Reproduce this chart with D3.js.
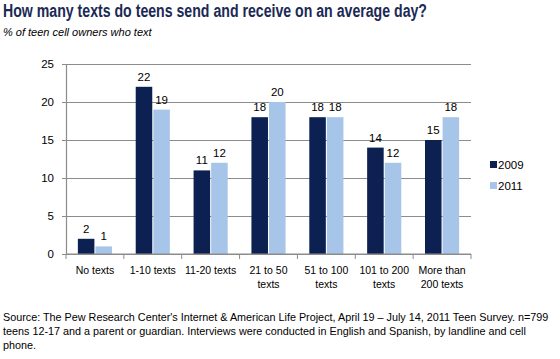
<!DOCTYPE html>
<html>
<head>
<meta charset="utf-8">
<script src="https://cdn.jsdelivr.net/npm/d3@7"></script>
<style>
  body { margin: 0; background: #fff; }
  svg { display: block; }
</style>
</head>
<body>
<svg id="chart" width="560" height="359"></svg>
<script>
const categories = [
  ["No texts"], ["1-10 texts"], ["11-20 texts"], ["21 to 50", "texts"],
  ["51 to 100", "texts"], ["101 to 200", "texts"], ["More than", "200 texts"]
];
const years = ["2009", "2011"];
const values2009 = [2, 22, 11, 18, 18, 14, 15];
const values2011 = [1, 19, 12, 20, 18, 12, 18];
const yTicks = [0, 5, 10, 15, 20, 25];
const sourceLines = [
  "Source: The Pew Research Center's Internet & American Life Project, April 19 \u2013 July 14, 2011 Teen Survey. n=799",
  "teens 12-17 and a parent or guardian. Interviews were conducted in English and Spanish, by landline and cell",
  "phone."
];

const palette = { "2009": "#0c2152", "2011": "#a7c4e9" };
const font = "'Liberation Sans', Arial, sans-serif";

const svg = d3.select("#chart");
const margin = { top: 64, right: 89, bottom: 105, left: 66 };
const width = 560, height = 359;

const x = d3.scaleBand()
  .domain(d3.range(categories.length))
  .range([margin.left, width - margin.right]);

const x1 = d3.scaleBand()
  .domain(years)
  .range([x.bandwidth() * 0.205, x.bandwidth() * 0.795])
  .paddingInner(0.06);

const y = d3.scaleLinear()
  .domain([0, 25])
  .range([height - margin.bottom, margin.top]);

// title
svg.append("text")
  .attr("x", 3).attr("y", 17)
  .attr("font-family", font)
  .attr("font-weight", "bold")
  .attr("font-size", 18)
  .attr("fill", "#1b2a55")
  .attr("textLength", 424)
  .attr("lengthAdjust", "spacingAndGlyphs")
  .text("How many texts do teens send and receive on an average day?");

svg.append("text")
  .attr("x", 3).attr("y", 36)
  .attr("font-family", font)
  .attr("font-style", "italic")
  .attr("font-size", 11)
  .attr("fill", "#000")
  .text("% of teen  cell owners who text");

// gridlines
svg.append("g")
  .attr("transform", `translate(${margin.left},0)`)
  .call(d3.axisLeft(y).tickValues(yTicks).tickSize(-(width - margin.left - margin.right)).tickFormat(""))
  .call(g => g.select(".domain").remove())
  .selectAll("line")
  .attr("stroke", "#8c8c8c")
  .attr("stroke-width", 1.2);

// bars
const groups = svg.append("g")
  .selectAll("g")
  .data(categories.map((c, i) => ({ i, vals: [values2009[i], values2011[i]] })))
  .join("g")
  .attr("transform", d => `translate(${x(d.i)},0)`);

groups.selectAll("rect")
  .data(d => years.map((yr, k) => ({ yr, v: d.vals[k] })))
  .join("rect")
  .attr("x", d => x1(d.yr))
  .attr("y", d => y(d.v))
  .attr("width", x1.bandwidth())
  .attr("height", d => y(0) - y(d.v))
  .attr("fill", d => palette[d.yr]);

groups.selectAll("text.val")
  .data(d => years.map((yr, k) => ({ yr, v: d.vals[k] })))
  .join("text")
  .attr("class", "val")
  .attr("x", d => x1(d.yr) + x1.bandwidth() / 2)
  .attr("y", d => y(d.v) - 6)
  .attr("text-anchor", "middle")
  .attr("font-family", font)
  .attr("font-size", 11.5)
  .attr("fill", "#000")
  .text(d => d.v);

// y axis
const yAxis = svg.append("g")
  .attr("transform", `translate(${margin.left},0)`)
  .call(d3.axisLeft(y).tickValues(yTicks).tickSize(4).tickPadding(8));
yAxis.select(".domain").attr("stroke", "#8c8c8c").attr("stroke-width", 1.2);
yAxis.selectAll("line").attr("stroke", "#8c8c8c");
yAxis.selectAll("text").attr("font-family", font).attr("font-size", 11.5).attr("fill", "#000");

// x axis
const xAxisY = y(0);
const xg = svg.append("g");
xg.append("line")
  .attr("x1", margin.left).attr("x2", width - margin.right)
  .attr("y1", xAxisY).attr("y2", xAxisY)
  .attr("stroke", "#8c8c8c").attr("stroke-width", 1.2);
xg.selectAll("line.tick")
  .data(d3.range(categories.length + 1))
  .join("line")
  .attr("class", "tick")
  .attr("x1", i => i < categories.length ? x(i) : x(i - 1) + x.bandwidth())
  .attr("x2", i => i < categories.length ? x(i) : x(i - 1) + x.bandwidth())
  .attr("y1", xAxisY).attr("y2", xAxisY + 5)
  .attr("stroke", "#8c8c8c");

xg.selectAll("text.cat")
  .data(categories)
  .join("text")
  .attr("class", "cat")
  .attr("x", (d, i) => x(i) + x.bandwidth() / 2)
  .attr("y", xAxisY + 20)
  .attr("text-anchor", "middle")
  .attr("font-family", font)
  .attr("font-size", 10.5)
  .attr("fill", "#000")
  .selectAll("tspan")
  .data(d => d)
  .join("tspan")
  .attr("x", function () { return d3.select(this.parentNode).attr("x"); })
  .attr("dy", (d, k) => k === 0 ? 0 : 14)
  .text(d => d);

// legend
const legend = svg.append("g").attr("transform", "translate(490,161)");
const items = legend.selectAll("g")
  .data(years)
  .join("g")
  .attr("transform", (d, i) => `translate(0,${i * 21})`);
items.append("rect")
  .attr("width", 7).attr("height", 7)
  .attr("fill", d => palette[d]);
items.append("text")
  .attr("x", 8).attr("y", 7.5)
  .attr("font-family", font)
  .attr("font-size", 11.5)
  .attr("fill", "#000")
  .text(d => d);

// source
svg.append("g")
  .selectAll("text")
  .data(sourceLines)
  .join("text")
  .attr("x", 3)
  .attr("y", (d, i) => 321 + i * 14)
  .attr("font-family", font)
  .attr("font-size", 10.8)
  .attr("fill", "#000")
  .text(d => d);
</script>
</body>
</html>
